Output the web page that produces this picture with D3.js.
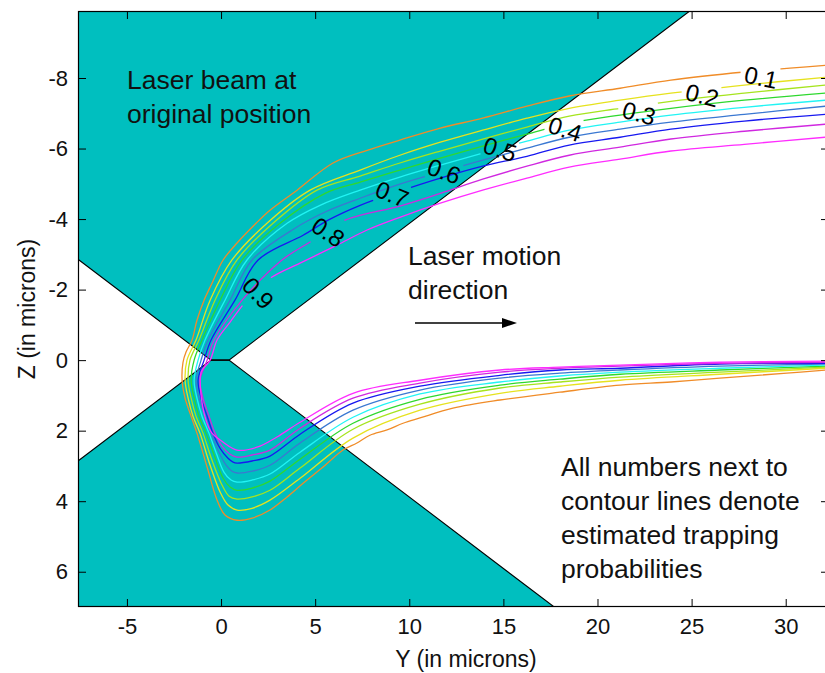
<!DOCTYPE html>
<html>
<head>
<meta charset="utf-8">
<script src="https://cdn.jsdelivr.net/npm/d3@7"></script>
<style>
  body { margin: 0; background: #fff; }
  svg { display: block; font-family: "Liberation Sans", Arial, sans-serif; }
</style>
</head>
<body>
<svg id="chart" width="825" height="673"></svg>
<script>
// trapping probability levels and their line colours
const levels = [0.1, 0.2, 0.3, 0.4, 0.5, 0.6, 0.7, 0.8, 0.9];
const levelColors = ['#f08c28', '#e6e21e', '#a6e41e', '#2ed82e', '#22f4f4', '#3a78d2', '#1818f0', '#d028e0', '#ff2cff'];

// contour lines, [Y, Z] in microns, traced from the upper branch round to the lower one
const c01 = [[32.1,-8.36],[27.8,-8.17],[23.9,-7.94],[21.2,-7.71],[18.5,-7.49],[16.25,-7.20],[13.9,-6.86],[11.65,-6.58],[9.5,-6.24],[7.76,-5.95],[5.95,-5.59],[4.04,-4.82],[2.6,-4.25],[1.86,-3.88],[0.85,-3.32],[0.11,-2.84],[-0.48,-2.18],[-0.9,-1.7],[-1.28,-1.13],[-1.54,-0.57],[-1.86,-0.23],[-2.02,0.06],[-2.07,0.57],[-1.91,1.08],[-1.59,1.59],[-1.28,2.07],[-0.74,3.03],[-0.21,3.97],[0.21,4.39],[0.85,4.54],[1.65,4.48],[2.6,4.25],[3.51,3.88],[4.36,3.49],[5.42,3.03],[6.48,2.55],[7.22,2.35],[7.91,2.13],[8.82,1.98],[9.67,1.79],[10.57,1.64],[12.32,1.36],[14.82,1.13],[18.0,0.91],[21.2,0.71],[23.9,0.62],[26.5,0.51],[30.06,0.37],[32.1,0.28]];
const c02 = [[32.1,-8.02],[27.8,-7.80],[23.9,-7.57],[21.2,-7.37],[18.5,-7.14],[16.25,-6.86],[13.9,-6.52],[11.65,-6.18],[9.5,-5.81],[7.39,-5.39],[4.73,-4.82],[2.44,-3.88],[0.58,-2.84],[-0.58,-1.7],[-1.33,-0.57],[-1.81,0],[-1.91,0.57],[-1.75,1.08],[-1.49,1.59],[-1.12,2.07],[-0.58,2.98],[-0.05,3.74],[0.37,4.11],[0.85,4.25],[1.65,4.2],[2.6,3.97],[4.2,3.35],[7.01,2.21],[10.57,1.42],[14.82,0.94],[18.0,0.74],[21.2,0.57],[26.5,0.40],[32.1,0.23]];
const c03 = [[32.1,-7.80],[27.8,-7.57],[23.9,-7.34],[21.2,-7.14],[18.5,-6.92],[16.25,-6.61],[13.9,-6.27],[11.65,-5.93],[9.5,-5.59],[7.39,-5.22],[5.10,-4.82],[2.76,-3.88],[0.85,-2.84],[-0.32,-1.7],[-1.17,-0.57],[-1.65,0],[-1.75,0.57],[-1.59,1.08],[-1.33,1.59],[-0.96,2.07],[-0.48,2.84],[0.05,3.54],[0.43,3.86],[0.85,3.94],[1.65,3.88],[2.6,3.69],[4.2,3.06],[7.01,1.96],[10.57,1.25],[14.82,0.79],[18.0,0.62],[21.2,0.48],[26.5,0.34],[32.1,0.20]];
const c04 = [[32.1,-7.57],[27.8,-7.37],[23.9,-7.14],[21.2,-6.95],[18.5,-6.72],[16.25,-6.41],[13.9,-6.07],[11.65,-5.73],[9.5,-5.39],[7.39,-5.05],[5.53,-4.73],[3.13,-3.88],[1.12,-2.84],[-0.05,-1.7],[-1.01,-0.57],[-1.43,0],[-1.59,0.57],[-1.43,1.08],[-1.17,1.59],[-0.8,2.07],[-0.37,2.69],[0.11,3.35],[0.48,3.6],[0.85,3.69],[1.65,3.63],[2.6,3.43],[4.2,2.81],[7.01,1.79],[10.57,1.11],[14.82,0.71],[18.0,0.54],[21.2,0.40],[26.5,0.28],[32.1,0.17]];
const c05 = [[32.1,-7.37],[27.8,-7.17],[23.9,-6.95],[21.2,-6.75],[18.5,-6.52],[16.25,-6.21],[13.9,-5.87],[11.65,-5.53],[9.5,-5.19],[7.39,-4.82],[5.26,-4.39],[3.51,-3.88],[1.38,-2.84],[0.21,-1.7],[-0.85,-0.57],[-1.22,0],[-1.43,0.57],[-1.28,1.08],[-1.01,1.59],[-0.64,2.07],[-0.27,2.61],[0.16,3.18],[0.53,3.4],[0.85,3.46],[1.65,3.4],[2.6,3.23],[4.2,2.61],[7.01,1.62],[10.57,0.96],[14.82,0.62],[18.0,0.45],[21.2,0.34],[26.5,0.23],[32.1,0.14]];
const c06 = [[32.1,-7.20],[27.8,-6.97],[23.9,-6.75],[21.2,-6.55],[18.5,-6.32],[16.25,-6.01],[13.9,-5.67],[11.65,-5.33],[9.5,-4.99],[7.39,-4.59],[5.53,-4.20],[3.93,-3.74],[1.65,-2.84],[0.48,-1.7],[-0.69,-0.57],[-1.06,0],[-1.33,0.57],[-1.17,1.08],[-0.85,1.59],[-0.53,2.07],[-0.16,2.55],[0.27,2.98],[0.58,3.15],[0.85,3.2],[1.65,3.15],[2.6,2.98],[4.2,2.35],[7.01,1.42],[10.57,0.85],[14.82,0.51],[18.0,0.37],[21.2,0.28],[26.5,0.17],[32.1,0.11]];
const c07 = [[32.1,-6.97],[27.8,-6.78],[23.9,-6.55],[21.2,-6.32],[18.5,-6.10],[16.25,-5.78],[13.9,-5.50],[11.65,-5.16],[9.5,-4.79],[7.39,-4.39],[5.69,-3.97],[4.36,-3.54],[1.97,-2.84],[0.74,-1.7],[-0.53,-0.57],[-0.9,0],[-1.22,0.57],[-1.06,1.08],[-0.74,1.59],[-0.43,2.07],[-0.05,2.5],[0.37,2.78],[0.64,2.89],[0.85,2.92],[1.65,2.86],[2.6,2.72],[4.2,2.10],[7.01,1.22],[10.57,0.74],[14.82,0.43],[18.0,0.28],[21.2,0.23],[26.5,0.11],[32.1,0.09]];
const c08 = [[32.1,-6.69],[27.8,-6.49],[23.9,-6.27],[21.2,-6.04],[18.5,-5.81],[16.25,-5.50],[13.9,-5.13],[11.65,-4.73],[9.5,-4.37],[6.59,-3.97],[4.73,-3.35],[3.24,-2.84],[1.12,-1.7],[-0.37,-0.57],[-0.74,0],[-1.12,0.57],[-0.96,1.08],[-0.64,1.59],[-0.32,2.07],[0.05,2.44],[0.48,2.67],[0.85,2.75],[1.65,2.69],[2.6,2.55],[4.2,1.93],[7.01,1.08],[10.57,0.65],[14.82,0.34],[18.0,0.23],[21.2,0.17],[26.5,0.09],[32.1,0.06]];
const c09 = [[32.1,-6.32],[27.8,-6.12],[23.9,-5.93],[21.2,-5.70],[18.5,-5.47],[16.25,-5.16],[13.9,-4.82],[11.65,-4.45],[9.5,-4.05],[7.76,-3.69],[6.16,-3.26],[4.2,-2.75],[2.6,-2.32],[1.38,-1.7],[0.48,-1.08],[-0.21,-0.57],[-0.58,0],[-1.06,0.34],[-1.06,0.99],[-0.8,1.7],[-0.48,2.07],[0.05,2.3],[0.85,2.55],[1.91,2.47],[2.97,2.18],[4.2,1.76],[7.01,0.94],[10.57,0.57],[14.82,0.28],[18.0,0.20],[21.2,0.14],[26.5,0.06],[32.1,0.03]];
const contours = [c01, c02, c03, c04, c05, c06, c07, c08, c09];

// inline label centres [Y, Z] and their rotation in degrees
const labelPos = [[28.69,-8.02],[25.56,-7.51],[22.21,-7.0],[18.28,-6.55],[14.82,-5.98],[11.85,-5.36],[9.09,-4.71],[5.69,-3.63],[1.97,-1.9]];
const labelRot = [12, 14, 15, 18, 18, 20, 22, 34, 47];

// laser beam (double cone), [Y, Z]
const beamUpper = [[-7.6,-9.9],[24.9,-9.9],[0.42,0],[-0.53,0],[-7.6,-2.86]];
const beamLower = [[-7.6,7],[17.7,7],[0.42,0],[-0.53,0],[-7.6,2.86]];
const beamEdgeUpper = [[-7.6,-2.86],[-0.53,0],[0.42,0],[24.9,-9.9]];
const beamEdgeLower = [[-7.6,2.86],[-0.53,0],[0.42,0],[17.7,7]];

const yTicks = [-5, 0, 5, 10, 15, 20, 25, 30];
const zTicks = [-8, -6, -4, -2, 0, 2, 4, 6];

const svg = d3.select('#chart');
const x = d3.scaleLinear().domain([-7.6, 32.3]).range([78, 829]);
const z = d3.scaleLinear().domain([-9.9, 7]).range([11, 607]);

const defs = svg.append('defs');
defs.append('clipPath').attr('id', 'plot-clip')
  .append('rect').attr('x', 78).attr('y', 11).attr('width', 751).attr('height', 596);

const plot = svg.append('g').attr('clip-path', 'url(#plot-clip)');
const pt = d => [x(d[0]), z(d[1])];

// beam
plot.selectAll('.beam')
  .data([beamUpper, beamLower])
  .join('polygon')
  .attr('class', 'beam')
  .attr('points', d => d.map(p => pt(p).join(',')).join(' '))
  .attr('fill', '#00bfbf');

plot.selectAll('.beam-edge')
  .data([beamEdgeUpper, beamEdgeLower])
  .join('polyline')
  .attr('class', 'beam-edge')
  .attr('points', d => d.map(p => pt(p).join(',')).join(' '))
  .attr('fill', 'none')
  .attr('stroke', '#000')
  .attr('stroke-width', 1.1);

// local direction of a contour at its label, for the inline gap
function lineAngle(points, c) {
  let best = Infinity, ang = 0;
  for (let i = 0; i < points.length - 1; i++) {
    const a = pt(points[i]), b = pt(points[i + 1]);
    const mx = (a[0] + b[0]) / 2, my = (a[1] + b[1]) / 2;
    const dist = Math.hypot(mx - c[0], my - c[1]);
    if (dist < best) { best = dist; ang = Math.atan2(b[1] - a[1], b[0] - a[0]) * 180 / Math.PI; }
  }
  if (ang > 90) ang -= 180;
  if (ang < -90) ang += 180;
  return ang;
}

contours.forEach((cs, i) => {
  const c = pt(labelPos[i]);
  const ang = lineAngle(cs, c);
  const m = defs.append('mask').attr('id', 'gap' + i)
    .attr('maskUnits', 'userSpaceOnUse')
    .attr('x', 0).attr('y', 0).attr('width', 825).attr('height', 673);
  m.append('rect').attr('width', 825).attr('height', 673).attr('fill', '#fff');
  m.append('rect')
    .attr('x', -20).attr('y', -12).attr('width', 40).attr('height', 24)
    .attr('transform', `translate(${c[0]},${c[1]}) rotate(${ang})`)
    .attr('fill', '#000');
});

const line = d3.line()
  .x(d => x(d[0]))
  .y(d => z(d[1]))
  .curve(d3.curveCatmullRom.alpha(0.5));

plot.selectAll('.contour')
  .data(contours)
  .join('path')
  .attr('class', 'contour')
  .attr('d', line)
  .attr('fill', 'none')
  .attr('stroke', (d, i) => levelColors[i])
  .attr('stroke-width', 1.3)
  .attr('mask', (d, i) => `url(#gap${i})`);

plot.selectAll('.clabel')
  .data(levels)
  .join('text')
  .attr('class', 'clabel')
  .attr('transform', (d, i) => `translate(${x(labelPos[i][0])},${z(labelPos[i][1])}) rotate(${labelRot[i]})`)
  .attr('text-anchor', 'middle')
  .attr('dominant-baseline', 'central')
  .attr('font-size', 24)
  .attr('fill', '#000')
  .text(d => d.toFixed(1));

// axes, ticks pointing inward like the original; plain hyphen for negatives
const fmt = d => String(d);
const axes = svg.append('g');
axes.append('g')
  .attr('transform', 'translate(0,607)')
  .call(d3.axisBottom(x).tickValues(yTicks).tickSize(-8).tickPadding(11).tickFormat(fmt))
  .call(g => g.select('.domain').remove())
  .selectAll('text').attr('font-size', 22).attr('fill', '#111');
axes.append('g')
  .attr('transform', 'translate(0,11)')
  .call(d3.axisTop(x).tickValues(yTicks).tickSize(-8).tickFormat(''))
  .call(g => g.select('.domain').remove());
axes.append('g')
  .attr('transform', 'translate(78,0)')
  .call(d3.axisLeft(z).tickValues(zTicks).tickSize(-8).tickPadding(10).tickFormat(fmt))
  .call(g => g.select('.domain').remove())
  .selectAll('text').attr('font-size', 22).attr('fill', '#111');
axes.append('g')
  .attr('transform', 'translate(829,0)')
  .call(d3.axisRight(z).tickValues(zTicks).tickSize(-8).tickFormat(''))
  .call(g => g.select('.domain').remove());
axes.selectAll('.tick line').attr('stroke', '#000');
axes.selectAll('text').attr('font-family', '"Liberation Sans", Arial, sans-serif');

svg.append('rect')
  .attr('x', 78.5).attr('y', 11.5).attr('width', 750).attr('height', 595)
  .attr('fill', 'none').attr('stroke', '#000').attr('stroke-width', 1.2);

// axis titles
svg.append('text')
  .attr('x', 466).attr('y', 667)
  .attr('text-anchor', 'middle')
  .attr('font-size', 23).attr('fill', '#111')
  .text('Y (in microns)');
svg.append('text')
  .attr('transform', 'translate(35,309) rotate(-90)')
  .attr('text-anchor', 'middle')
  .attr('font-size', 23).attr('fill', '#111')
  .text('Z (in microns)');

// annotations
const note = (lines, x0, y0) => {
  svg.append('g').selectAll('text')
    .data(lines)
    .join('text')
    .attr('x', x0)
    .attr('y', (d, i) => y0 + i * 34)
    .attr('font-size', 26.5)
    .attr('fill', '#111')
    .text(d => d);
};
note(['Laser beam at', 'original position'], 127, 89);
note(['Laser motion', 'direction'], 408, 265);
note(['All numbers next to', 'contour lines denote', 'estimated trapping', 'probabilities'], 561, 476);

svg.append('line')
  .attr('x1', 415).attr('y1', 323).attr('x2', 505).attr('y2', 323)
  .attr('stroke', '#000').attr('stroke-width', 1.5);
svg.append('polygon')
  .attr('points', '517,323 502,318 502,328')
  .attr('fill', '#000');
</script>
</body>
</html>
